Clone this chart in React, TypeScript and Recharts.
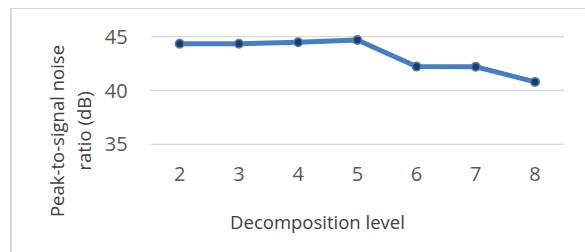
import { LineChart, Line, XAxis, YAxis, CartesianGrid } from 'recharts'

const levels = ['2', '3', '4', '5', '6', '7', '8']
const psnr = [44.35, 44.35, 44.48, 44.69, 42.22, 42.2, 40.8]
const yTicks = [35, 40, 45]

const data = levels.map((level, i) => ({ level, psnr: psnr[i] }))

const FONT = "'Open Sans', sans-serif"

function YLabel() {
  return (
    <text
      transform="translate(71, 131) rotate(-90)"
      textAnchor="middle"
      fontFamily={FONT}
      fontSize={18.5}
      fill="#404040"
    >
      <tspan x={0} dy={-7}>Peak-to-signal noise</tspan>
      <tspan x={0} dy={27}>ratio (dB)</tspan>
    </text>
  )
}

function XLabel() {
  return (
    <text x={317.5} y={229} textAnchor="middle" fontFamily={FONT} fontSize={18.5} fill="#404040">
      Decomposition level
    </text>
  )
}

export default function App() {
  return (
    <div style={{ position: 'absolute', left: 0, top: 0, width: 585, height: 252, background: '#fff', overflow: 'hidden' }}>
      <div
        style={{
          position: 'absolute',
          left: 10,
          top: 8,
          width: 620,
          height: 300,
          borderTop: '1px solid #d9d9d9',
          borderLeft: '2.5px solid #d9d9d9',
        }}
      />
      <LineChart
        width={585}
        height={252}
        data={data}
        margin={{ top: 36.7, right: 21, bottom: 0, left: 0 }}
        style={{ position: 'absolute', left: 0, top: 0 }}
      >
        <CartesianGrid horizontal vertical={false} stroke="#d9d9d9" strokeWidth={1.3} />
        <XAxis
          dataKey="level"
          axisLine={false}
          tickLine={false}
          tickSize={0}
          tickMargin={22}
          height={107.7}
          padding={{ left: 29, right: 29 }}
          tick={{ fontSize: 20, fill: '#595959', fontFamily: FONT }}
          label={<XLabel />}
        />
        <YAxis
          domain={[35, 45]}
          ticks={yTicks}
          width={150.7}
          axisLine={false}
          tickLine={false}
          tickSize={0}
          tickMargin={23}
          interval={0}
          tick={{ fontSize: 20, fill: '#595959', fontFamily: FONT }}
          label={<YLabel />}
        />
        <Line
          type="linear"
          dataKey="psnr"
          stroke="#4a7ebb"
          strokeWidth={5}
          dot={{ r: 4.2, fill: '#1f3a63', stroke: '#4a7ebb', strokeWidth: 1.6 }}
          activeDot={false}
          isAnimationActive={false}
        />
      </LineChart>
    </div>
  )
}
